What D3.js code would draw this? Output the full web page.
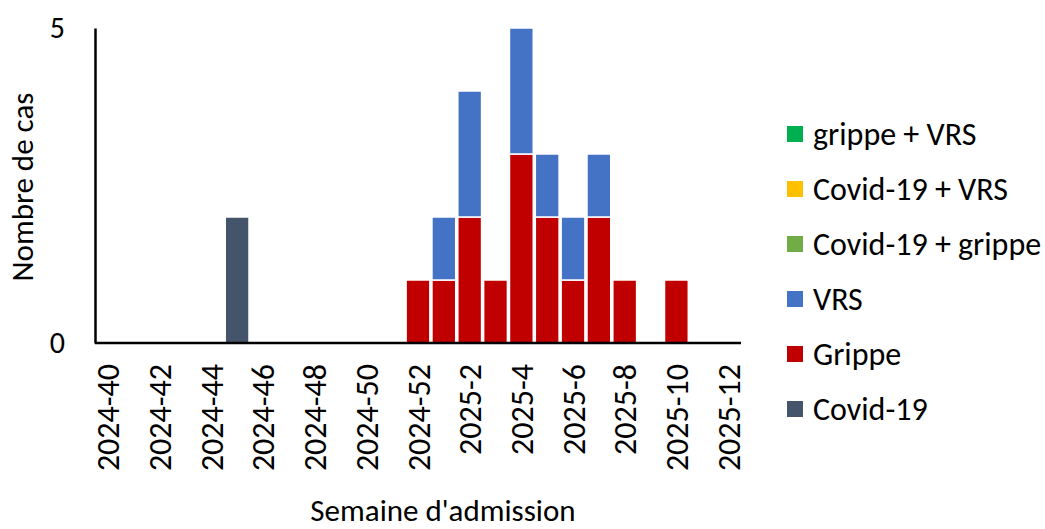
<!DOCTYPE html>
<html>
<head>
<meta charset="utf-8">
<script src="https://cdn.jsdelivr.net/npm/d3@7"></script>
<style>
  body { margin: 0; background: #fff; }
  text { font-family: Carlito, Calibri, "Open Sans", sans-serif; fill: #000; }
</style>
</head>
<body>
<svg id="chart" width="1045" height="529"></svg>
<script>
// Admission weeks (2024-40 .. 2025-12)
const weeks = [
  "2024-40","2024-41","2024-42","2024-43","2024-44","2024-45","2024-46","2024-47",
  "2024-48","2024-49","2024-50","2024-51","2024-52",
  "2025-1","2025-2","2025-3","2025-4","2025-5","2025-6","2025-7","2025-8",
  "2025-9","2025-10","2025-11","2025-12"
];
// Labelled ticks on the x axis
const tickLabels = ["2024-40","2024-42","2024-44","2024-46","2024-48","2024-50","2024-52",
  "2025-2","2025-4","2025-6","2025-8","2025-10","2025-12"];
const yTicks = [0, 5];

// Case counts per week, one array per pathogen group (stack order bottom -> top)
const covid        = [0,0,0,0,0,2,0,0,0,0,0,0,0, 0,0,0,0,0,0,0,0,0,0,0,0];
const grippe       = [0,0,0,0,0,0,0,0,0,0,0,0,1, 1,2,1,3,2,1,2,1,0,1,0,0];
const vrs          = [0,0,0,0,0,0,0,0,0,0,0,0,0, 1,2,0,2,1,1,1,0,0,0,0,0];
const covidGrippe  = [0,0,0,0,0,0,0,0,0,0,0,0,0, 0,0,0,0,0,0,0,0,0,0,0,0];
const covidVrs     = [0,0,0,0,0,0,0,0,0,0,0,0,0, 0,0,0,0,0,0,0,0,0,0,0,0];
const grippeVrs    = [0,0,0,0,0,0,0,0,0,0,0,0,0, 0,0,0,0,0,0,0,0,0,0,0,0];

const seriesNames  = ["Covid-19","Grippe","VRS","Covid-19 + grippe","Covid-19 + VRS","grippe + VRS"];
const seriesValues = [covid, grippe, vrs, covidGrippe, covidVrs, grippeVrs];
const seriesColors = ["#44546A","#C00000","#4472C4","#70AD47","#FFC000","#00B050"];

const rows = weeks.map((w, i) => {
  const r = { week: w };
  seriesNames.forEach((n, k) => r[n] = seriesValues[k][i]);
  return r;
});

const FONT = "Carlito, Calibri, 'Open Sans', sans-serif";
const svg = d3.select("#chart");
const plotLeft = 95, plotRight = 741;

const x = d3.scaleBand().domain(weeks).range([plotLeft, plotRight]).paddingInner(0.08).paddingOuter(0.04);
const y = d3.scaleLinear().domain([0, 5]).range([343, 28]);

const stack = d3.stack().keys(seriesNames)(rows);
const color = d3.scaleOrdinal().domain(seriesNames).range(seriesColors);

// Stacked bars
svg.append("g").selectAll("g").data(stack).join("g")
  .attr("fill", d => color(d.key))
  .selectAll("rect").data(d => d.filter(p => p[1] - p[0] > 0)).join("rect")
  .attr("x", d => x(d.data.week))
  .attr("width", x.bandwidth())
  .attr("y", d => y(d[1]))
  .attr("height", d => y(d[0]) - y(d[1]))
  .attr("stroke", "#fff")
  .attr("stroke-width", 1.5);

// Y axis line and labels
const yAxis = d3.axisLeft(y).tickValues(yTicks).tickFormat(d3.format("d")).tickSize(0).tickPadding(30);
const gy = svg.append("g").attr("transform", `translate(${plotLeft},0)`).call(yAxis);
gy.select(".domain").attr("stroke", "#000").attr("stroke-width", 2.5);
gy.selectAll("text").style("font-size", "30px").style("font-family", FONT);

// X axis
const xAxis = d3.axisBottom(x).tickValues(tickLabels).tickSize(0).tickPadding(0);
const gx = svg.append("g").attr("transform", `translate(0,${y(0)})`).call(xAxis);
gx.select(".domain").attr("stroke", "#000").attr("stroke-width", 2.5)
  .attr("d", `M${plotLeft},0H${plotRight}`);
gx.selectAll("text")
  .style("font-size", "32px")
  .style("font-family", FONT)
  .attr("text-anchor", "end")
  .attr("dy", null)
  .attr("y", 0)
  .attr("x", 0)
  .attr("transform", "translate(1,21) rotate(-90)")
  .attr("dominant-baseline", "central");

// Axis titles
svg.append("text")
  .attr("x", 443).attr("y", 521)
  .attr("text-anchor", "middle")
  .style("font-size", "31px")
  .text("Semaine d'admission");
svg.append("text")
  .attr("transform", "translate(33,187) rotate(-90)")
  .attr("text-anchor", "middle")
  .style("font-size", "31px")
  .text("Nombre de cas");

// Legend (top entry is last series)
const legendOrder = seriesNames.slice().reverse();
const lg = svg.append("g").selectAll("g").data(legendOrder).join("g")
  .attr("transform", (d, i) => `translate(787,${134 + i * 55})`);
lg.append("rect").attr("x", 0).attr("y", -8).attr("width", 16).attr("height", 16)
  .attr("fill", d => color(d));
lg.append("text").attr("x", 26).attr("y", 0).attr("dominant-baseline", "central")
  .style("font-size", "32px").text(d => d);
</script>
</body>
</html>
